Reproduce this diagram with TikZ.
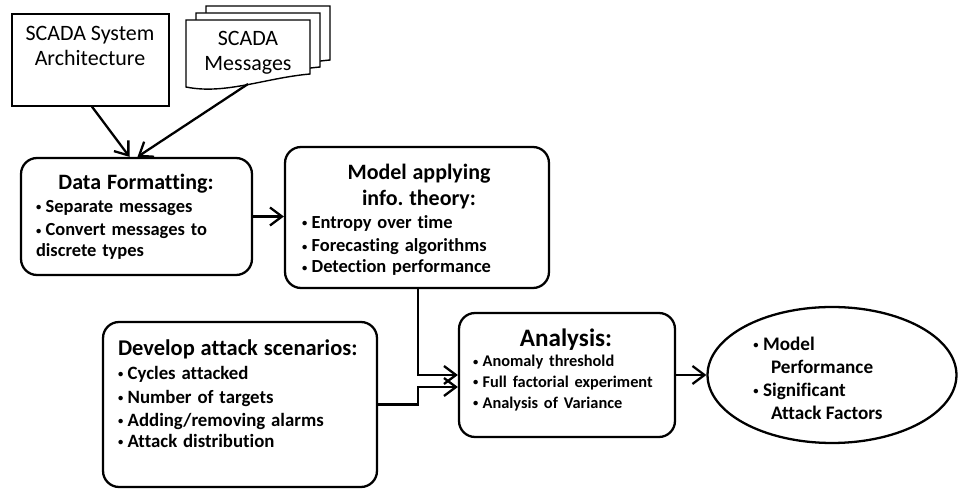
\documentclass[tikz,border=0pt]{standalone}
\usepackage{fontspec}
\setmainfont{Carlito}[Ligatures=NoCommon]
\frenchspacing
\usetikzlibrary{arrows.meta,calc,positioning,shapes.geometric}
\tikzset{stage/.style={draw,line width=1.3pt,rounded corners=0.32cm},
  src/.style={draw,line width=0.8pt,fill=white},
  txt/.style={align=left,inner sep=0pt,font=\bfseries},
  arr/.style={-{Straight Barb[length=2.4mm,width=3.6mm]},line width=1.3pt}}
\newcommand{\bul}{\raisebox{0.2ex}{\fontsize{6}{6}\selectfont\textbullet}\hspace{2.5pt}}

\begin{document}
\begin{tikzpicture}[x=0.02cm,y=-0.02cm]
\useasboundingbox (0,0) rectangle (958,489);
% inputs
\node[src,minimum width=3.14cm,minimum height=1.84cm] (arch) at (90.5,60) {};
\node[align=center,font=\fontsize{12.5}{14.2}\selectfont] (archTxt) at (90,46) {SCADA System\\Architecture};
\foreach \d in {2,1,0}
  \draw[src] (186+10*\d,87-7*\d) -- (186+10*\d,20-7*\d) -- (310+10*\d,20-7*\d) -- (310+10*\d,74-7*\d)
    .. controls (265+10*\d,78-7*\d) and (225+10*\d,95-7*\d) .. cycle;
\node[align=center,font=\fontsize{12.5}{14.2}\selectfont] (msg) at (248,53) {SCADA\\Messages};
\coordinate (msgOut) at (248,84);
% stages
\node[stage,minimum width=4.62cm,minimum height=2.34cm] (df) at (136.5,216.5) {};
\node[txt,text width=4.0cm] (dfTxt) at (136,217) {%
  {\centering\fontsize{12.5}{15}\selectfont Data Formatting:\par}
  \fontsize{10.5}{13.2}\selectfont\bul Separate messages\\ \bul Convert messages to\\ discrete types};
\node[stage,minimum width=5.28cm,minimum height=2.82cm] (model) at (417,217.5) {};
\node[txt,text width=4.68cm] (modelTxt) at (419,220) {%
  {\centering\fontsize{12.5}{14.8}\selectfont Model applying\\ info. theory:\par}
  \fontsize{10.5}{13.2}\selectfont\bul Entropy over time\\ \bul Forecasting algorithms\\ \bul Detection performance};
\node[stage,minimum width=5.48cm,minimum height=3.30cm] (dev) at (240,404.5) {};
\node[txt,text width=5.0cm] (devTxt) at (243,394) {%
  {\fontsize{12.8}{15}\selectfont\mbox{Develop attack scenarios:}\par}
  \fontsize{10.7}{13.4}\selectfont\bul Cycles attacked\\ \bul Number of targets\\ \bul Adding/removing alarms\\ \bul Attack distribution};
\node[stage,minimum width=4.32cm,minimum height=2.48cm] (ana) at (567,375) {};
\node[txt,text width=3.72cm] (anaTxt) at (566,370) {%
  {\centering\fontsize{14.3}{16}\selectfont Analysis:\par}
  \fontsize{9.3}{11.4}\selectfont\bul Anomaly threshold\\ \bul Full factorial experiment\\ \bul Analysis of Variance};
\node[ellipse,draw,line width=1.3pt,minimum width=4.98cm,minimum height=2.72cm] (res) at (832,375) {};
\node[txt,font=\bfseries\fontsize{10.9}{13.1}\selectfont] (resTxt) at (818,378) {%
  \bul Model\\ \hspace{10pt}Performance\\ \bul Significant\\ \hspace{10pt}Attack Factors};
% connectors
\coordinate (joint) at ($(model.south)+(1,0)$);
\draw[arr] ($(arch.south)+(1.5,0)$) -- ($(df.north)+(-7,0)$);
\draw[arr] (msgOut) -- ($(df.north)+(1,0)$);
\draw[arr] (df.east) -- (df.east -| model.west);
\draw[arr] (joint) |- (ana.west);
\draw[arr] (dev.east) -- (dev.east -| joint) |- ($(ana.west)+(0,12)$);
\draw[arr] (ana.east) -- (res.west);
\end{tikzpicture}
\end{document}
